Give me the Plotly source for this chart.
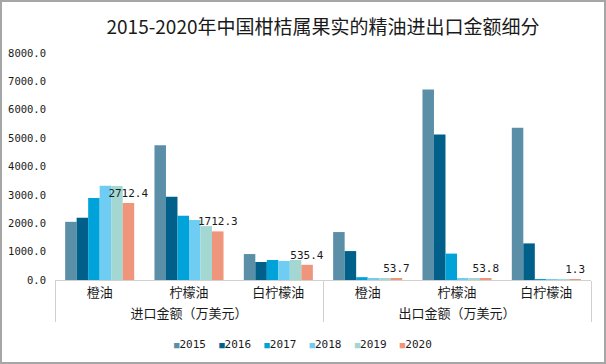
import plotly.graph_objects as go

TITLE = "2015-2020年中国柑桔属果实的精油进出口金额细分"
GROUPS = ["进口金额（万美元）"] * 3 + ["出口金额（万美元）"] * 3
CATEGORIES = ["橙油", "柠檬油", "白柠檬油", "橙油", "柠檬油", "白柠檬油"]
YEARS = ["2015", "2016", "2017", "2018", "2019", "2020"]
COLORS = ["#5B8FA8", "#00608A", "#00A2DA", "#6FCDF4", "#A3D8D2", "#EE957C"]

V2015 = [2050, 4750, 915, 1690, 6710, 5370]
V2016 = [2195, 2935, 634, 1020, 5125, 1290]
V2017 = [2890, 2265, 704, 100, 930, 25]
V2018 = [3320, 2115, 669, 60, 55, 10]
V2019 = [3310, 1900, 704, 60, 60, 10]
V2020 = [2712.4, 1712.3, 535.4, 53.7, 53.8, 1.3]
SERIES = [V2015, V2016, V2017, V2018, V2019, V2020]
LABELED_YEAR = "2020"

W, H = 606, 364
ML, MR, MT, MB = 55, 15, 53, 84
PW, PH = W - ML - MR, H - MT - MB

NUM_FONT = "DejaVu Sans Mono"
CJK_FONT = "Noto Sans CJK SC"

fig = go.Figure()
for year, color, vals in zip(YEARS, COLORS, SERIES):
    labeled = year == LABELED_YEAR
    fig.add_trace(go.Bar(
        name=year,
        x=[GROUPS, CATEGORIES],
        y=vals,
        marker=dict(color=color, line=dict(width=0)),
        text=[f"{v:.1f}" for v in vals] if labeled else None,
        textposition="outside" if labeled else None,
        textfont=dict(family=NUM_FONT, size=11, color="#1a1a1a"),
        constraintext="none",
        cliponaxis=False,
        showlegend=False,
        hoverinfo="skip",
    ))

legend_html = "&nbsp;&nbsp;".join(
    f"<span style='color:{c};font-size:9px'>■</span>{y}" for y, c in zip(YEARS, COLORS)
)

fig.update_layout(
    width=W, height=H,
    margin=dict(l=ML, r=MR, t=MT, b=MB, pad=0, autoexpand=False),
    paper_bgcolor="white", plot_bgcolor="white",
    barmode="group", bargap=0.227, bargroupgap=0,
    title=dict(text=TITLE, x=0.5, xref="paper", xanchor="center",
               y=1 - 27 / H, yanchor="middle",
               font=dict(family=CJK_FONT, size=19, color="#1a1a1a")),
    xaxis=dict(
        type="multicategory", showline=True, linecolor="#D0D0D0", linewidth=1,
        ticks="", showgrid=False, showdividers=True, dividercolor="#D0D0D0",
        dividerwidth=1, automargin=False,
        tickfont=dict(family=CJK_FONT, size=13, color="#1a1a1a"),
    ),
    yaxis=dict(
        range=[0, 8000], dtick=1000, tickformat=".1f", showgrid=False,
        zeroline=False, showline=False, ticks="", ticklabelstandoff=8,
        automargin=False,
        tickfont=dict(family=NUM_FONT, size=10.5, color="#1a1a1a"),
    ),
    annotations=[dict(
        text=legend_html, xref="paper", yref="paper",
        x=(303 - ML) / PW, y=-(344 - (MT + PH)) / PH,
        xanchor="center", yanchor="middle", showarrow=False,
        font=dict(family=NUM_FONT, size=11, color="#1a1a1a"),
    )],
    shapes=[dict(
        type="rect", xref="paper", yref="paper",
        x0=-(ML - 1) / PW, x1=1 + (MR - 1) / PW,
        y0=-(MB - 1) / PH, y1=1 + (MT - 1) / PH,
        line=dict(color="#A6A6A6", width=2), layer="above",
    )],
)

fig.write_html(
    "out.html",
    config={"displayModeBar": False},
    post_script="document.body.style.margin='0';document.body.style.overflow='hidden';",
)
